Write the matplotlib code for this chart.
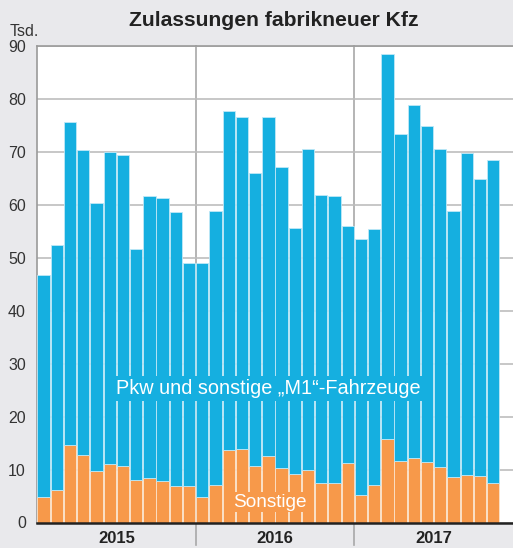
import matplotlib.pyplot as plt
import numpy as np

plt.rcParams['font.family'] = ['Liberation Sans', 'DejaVu Sans']

# monthly registrations in thousands, Jan 2015 - Nov 2017
totals = [46.7, 52.5, 75.7, 70.4, 60.4, 69.9, 69.5, 51.7, 61.7, 61.2, 58.6, 49.0,
          49.0, 58.8, 77.7, 76.5, 66.0, 76.6, 67.2, 55.6, 70.5, 61.8, 61.6, 56.0,
          53.5, 55.4, 88.5, 73.3, 78.9, 74.9, 70.5, 58.8, 69.7, 64.8, 68.5]
sonstige = [4.9, 6.1, 14.7, 12.7, 9.8, 11.0, 10.7, 8.0, 8.4, 7.9, 6.8, 6.9,
            4.8, 7.1, 13.6, 13.9, 10.7, 12.6, 10.2, 9.2, 9.9, 7.4, 7.4, 11.2,
            5.1, 7.0, 15.8, 11.7, 12.1, 11.4, 10.5, 8.6, 8.9, 8.7, 7.4]
years = ['2015', '2016', '2017']
yticks = [0, 10, 20, 30, 40, 50, 60, 70, 80, 90]

pkw = np.array(totals) - np.array(sonstige)
x = np.arange(len(totals))

blue = '#15afe0'
orange = '#f7994a'
bg = '#e9e9ec'

fig = plt.figure(figsize=(5.13, 5.48), dpi=100, facecolor=bg)
ax = fig.add_axes([37 / 513, (548 - 522.5) / 548, 476 / 513, 476.5 / 548])
ax.set_facecolor('white')

ax.bar(x, sonstige, width=0.93, color=orange, edgecolor='#fbe3cc', linewidth=0.6, zorder=3)
ax.bar(x, pkw, bottom=sonstige, width=0.93, color=blue, edgecolor='#bfe8f7', linewidth=0.6, zorder=3)

ax.set_xlim(-0.5, 35.5)
ax.set_ylim(0, 90)
ax.set_yticks(yticks)
ax.set_yticklabels([str(t) for t in yticks], fontsize=11.5, color='#333333')
ax.set_xticks([])
ax.tick_params(axis='y', length=0, pad=8)
ax.grid(axis='y', color='#bdbdbd', linewidth=1.2, zorder=0)

for s in ['left', 'top']:
    ax.spines[s].set_color('#9a9a9a')
    ax.spines[s].set_linewidth(1.2)
ax.spines['right'].set_visible(False)
ax.spines['bottom'].set_color('#222222')
ax.spines['bottom'].set_linewidth(1.8)
ax.spines['bottom'].set_zorder(5)

# year separators, running down into the label strip
for xs in [11.5, 23.5]:
    ax.plot([xs, xs], [-4.3, 90], color='#a8a8a8', linewidth=1.2, zorder=1, clip_on=False)
for i, yr in enumerate(years):
    ax.text(5.5 + 12 * i, -3.0, yr, ha='center', va='center', fontsize=12,
            fontweight='bold', color='#222222')

ax.text(17.0, 25.4, 'Pkw und sonstige \u201eM1\u201c-Fahrzeuge', ha='center', va='center',
        fontsize=14.3, color='white', zorder=6,
        bbox=dict(boxstyle='square,pad=0.15', facecolor=blue, edgecolor='none'))
ax.text(17.1, 3.8, 'Sonstige', ha='center', va='center', fontsize=13.7, color='white',
        zorder=6, bbox=dict(boxstyle='square,pad=0.08', facecolor=orange, edgecolor='none'))

fig.text(274 / 513, 1 - 20 / 548, 'Zulassungen fabrikneuer Kfz', ha='center', va='center',
         fontsize=15.2, fontweight='bold', color='#222222')
fig.text(10 / 513, 1 - 31 / 548, 'Tsd.', ha='left', va='center', fontsize=11.5, color='#333333')

fig.savefig('out.png', dpi=100, facecolor=bg)
